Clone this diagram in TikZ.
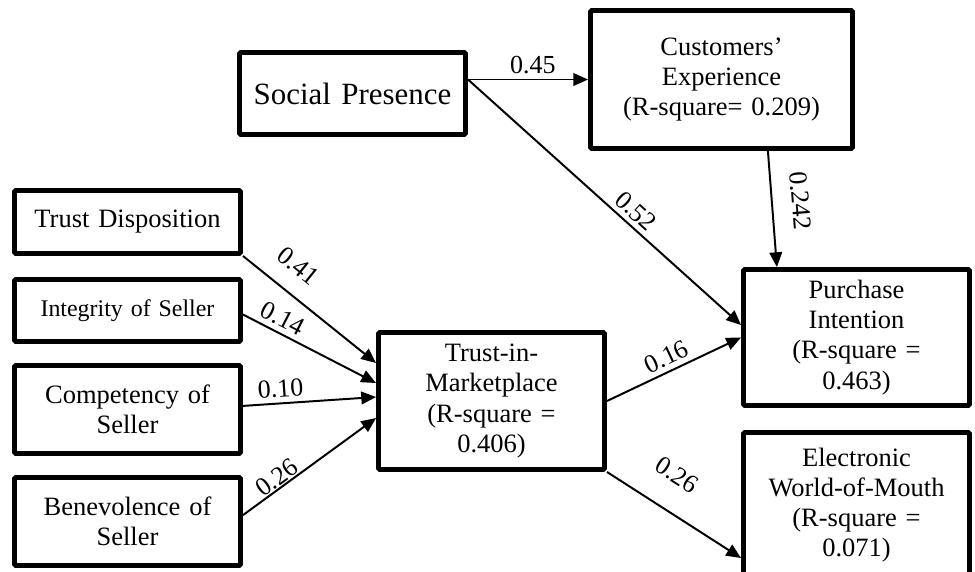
\documentclass[tikz,border=0pt]{standalone}
\usepackage{fontspec}
\setmainfont{Liberation Serif}
\usetikzlibrary{arrows.meta,positioning}

\begin{document}
\begin{tikzpicture}
  % Define block styles
  \tikzstyle{block} = [rectangle, draw, line width=3.5pt, rounded corners=1pt, text width=5.4cm, align=center, inner sep=0pt, minimum width=5.65cm, font=\fontsize{18.85}{21.4}\selectfont]
  \tikzstyle{line} = [draw, line width=1.4pt, -{Triangle[length=10.5pt,width=9pt]}]
  \tikzstyle{coef} = [font=\fontsize{18.5}{20}\selectfont, sloped, above]

  \useasboundingbox (0,0) rectangle (24.375,-14.275);

  % Place blocks
  \node [block, minimum height=1.575cm] (trustdisp) at (3.1875,-5.55) {Trust Disposition};
  \node [block, below of=trustdisp, node distance=2.2125cm, minimum height=1.55cm, font=\fontsize{17}{19}\selectfont] (integrity) {Integrity of Seller};
  \node [block, below of=integrity, node distance=2.475cm, minimum height=2.2cm] (competency) {Competency of\\ Seller};
  \node [block, below of=competency, node distance=2.8cm, minimum height=2.2cm] (benevolence) {Benevolence of\\ Seller};
  \node [block, right of=competency, node distance=9.1cm, yshift=0.2125cm, minimum height=3.425cm] (trustmkt) {Trust-in-\\ Marketplace\\ (R-square =\\ 0.406)};
  \node [block, minimum height=2.05cm, font=\fontsize{22}{24}\selectfont] (social) at (8.8125,-2.3375) {Social Presence};
  \node [block, right of=social, node distance=9.225cm, yshift=0.35cm, minimum width=6.55cm, text width=6.3cm, minimum height=3.45cm] (custexp) {Customers'\\ Experience\\ (R-square= 0.209)};
  \node [block, right of=trustmkt, node distance=9.125cm, yshift=1.5875cm, minimum height=3.4cm] (purchase) {Purchase\\ Intention\\ (R-square =\\ 0.463)};
  \node [block, below of=purchase, node distance=4.1875cm, minimum height=3.625cm] (ewom) {Electronic\\ World-of-Mouth\\ (R-square =\\ 0.071)};

  % Draw lines
  \path [line] (social.east |- custexp.west) -- node [coef, pos=0.54] {0.45} (custexp.west);
  \path [line] (social.east |- custexp.west) -- node [coef, pos=0.58] {0.52} ([yshift=0.3125cm]purchase.west);
  \path [line] ([xshift=1.16cm]custexp.south) -- node [coef, pos=0.45, above=10pt] {0.242} ([xshift=-1.99cm]purchase.north);
  \path [line] (trustdisp.south east) -- node [coef, pos=0.29, above=9pt] {0.41} ([yshift=0.95cm]trustmkt.west);
  \path [line] ([yshift=-0.1cm]integrity.east) -- node [coef, pos=0.25] {0.14} ([yshift=0.45cm]trustmkt.west);
  \path [line] ([yshift=0.09cm]competency.east) -- node [coef, pos=0.29] {0.10} ([yshift=0.1cm]trustmkt.west);
  \path [line] ([yshift=0.16cm]benevolence.east) -- node [coef, pos=0.3, above=-3pt] {0.26} ([yshift=-0.425cm]trustmkt.west);
  \path [line] (trustmkt.east) -- node [coef, pos=0.49] {0.16} (purchase.west);
  \path [line] (trustmkt.south east) -- node [coef, pos=0.38, above=15pt] {0.26} ([yshift=-1.325cm]ewom.west);
\end{tikzpicture}
\end{document}
